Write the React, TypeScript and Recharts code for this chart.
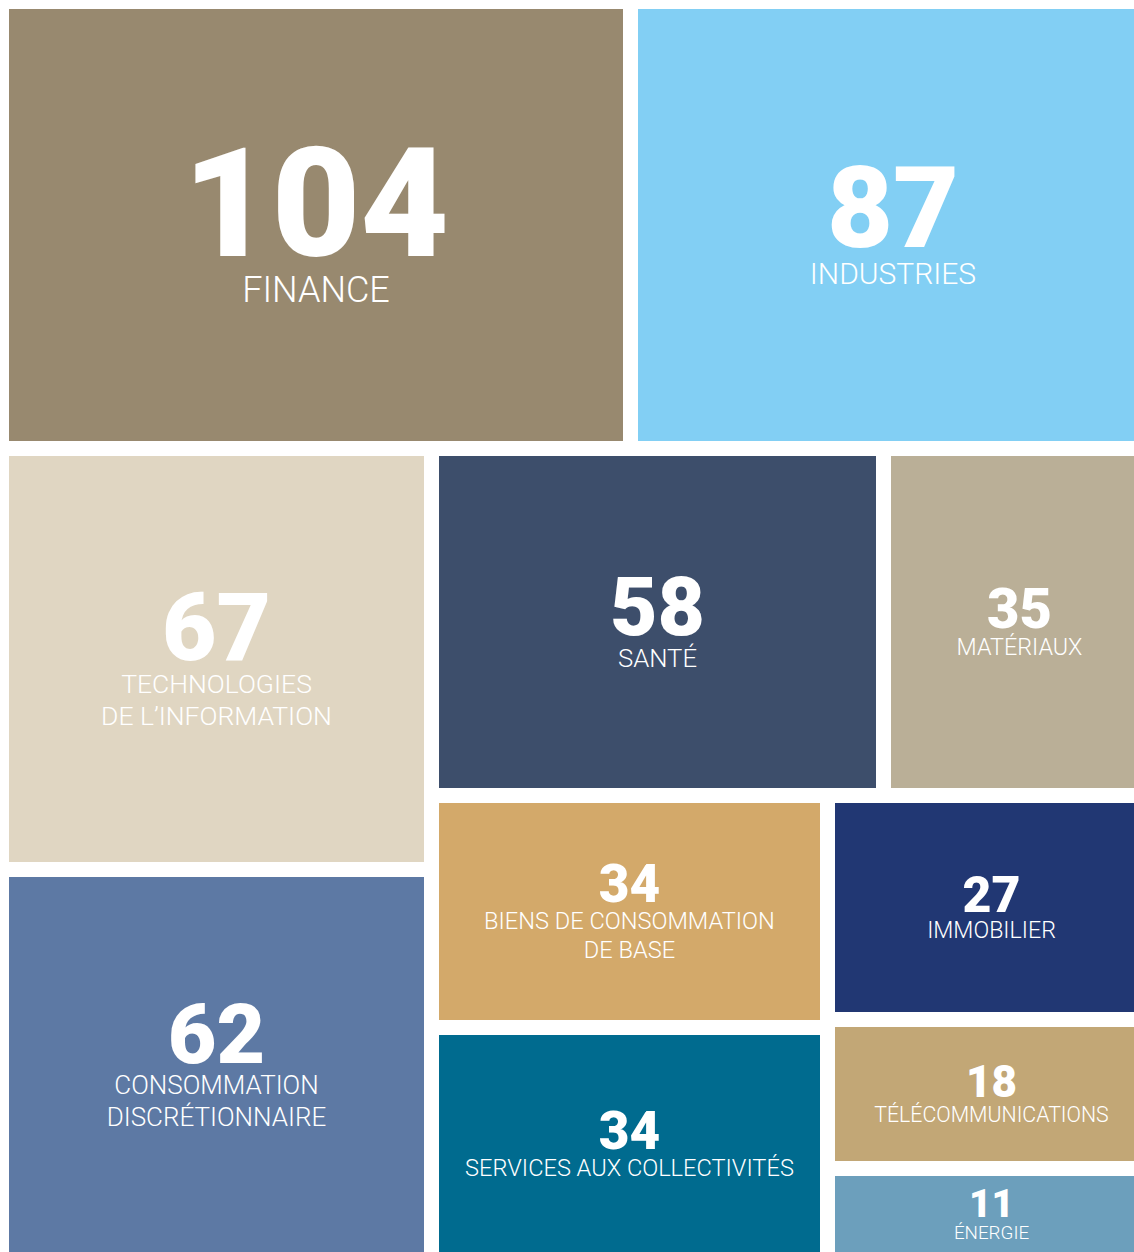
import React from 'react';
import { Treemap } from 'recharts';

// secteurs, dans l'ordre du plus grand au plus petit
const sectors = [
  'FINANCE',
  'INDUSTRIES',
  'TECHNOLOGIES\nDE L’INFORMATION',
  'CONSOMMATION\nDISCRÉTIONNAIRE',
  'SANTÉ',
  'MATÉRIAUX',
  'BIENS DE CONSOMMATION\nDE BASE',
  'SERVICES AUX COLLECTIVITÉS',
  'IMMOBILIER',
  'TÉLÉCOMMUNICATIONS',
  'ÉNERGIE',
];
const counts = [104, 87, 67, 62, 58, 35, 34, 34, 27, 18, 11];

// styles
const fills = [
  '#98896F', '#82CFF4', '#E0D6C2', '#5D79A4', '#3D4E6B', '#BAAF97',
  '#D3A96A', '#006B8F', '#213773', '#C2A776', '#6C9FBC',
];
const numberSizes = [153, 114, 94, 84, 82, 56, 53, 53, 50, 44, 39];
const labelSizes = [36, 30, 26.5, 26, 25.7, 23.3, 23.6, 23.6, 23.2, 21.3, 18.8];

const GAP = 15;

const leaf = (i: number) => ({ name: sectors[i], value: counts[i], idx: i });

// the last three are grouped so they stack in one column
const treeData = [
  ...[0, 1, 2, 3, 4, 5, 6, 7].map(leaf),
  {
    name: 'reste',
    children: [{ name: 'reste2', children: [leaf(8), leaf(9)] }, leaf(10)],
  },
];

const renderCell = (props: any) => {
  const { x, y, width, height, children, idx } = props;
  if ((children && children.length) || idx === undefined || idx === null) return <g />;

  const rx = x + 7;
  const ry = y + 7;
  const rw = width - GAP;
  const rh = height - GAP;
  const cx = rx + rw / 2;
  const cy = ry + rh / 2;

  const ns = numberSizes[idx];
  const ls = labelSizes[idx];
  const lines = String(sectors[idx]).split('\n');
  const capN = ns * 0.71;
  const capL = ls * 0.71;
  const gap = ns * 0.1 + 5;
  const lineH = ls * 1.22;
  const block = capN + gap + (lines.length - 1) * lineH + capL;
  const top = cy - block / 2;

  return (
    <g>
      <rect x={rx} y={ry} width={rw} height={rh} fill={fills[idx]} />
      <text
        x={cx}
        y={top + capN}
        textAnchor="middle"
        fill="#fff"
        style={{ fontFamily: 'Roboto, sans-serif', fontWeight: 900, fontSize: ns }}
      >
        {counts[idx]}
      </text>
      {lines.map((line, k) => (
        <text
          key={k}
          x={cx}
          y={top + capN + gap + capL + k * lineH}
          textAnchor="middle"
          fill="#fff"
          style={{ fontFamily: 'Roboto, sans-serif', fontWeight: 300, fontSize: ls }}
        >
          {line}
        </text>
      ))}
    </g>
  );
};

export default function App() {
  return (
    <div style={{ position: 'absolute', left: 0, top: 0, width: 1134, height: 1252, overflow: 'hidden', background: '#fff' }}>
      <div style={{ position: 'absolute', left: 2, top: 2 }}>
        <Treemap
          width={1154}
          height={1258}
          data={treeData}
          dataKey="value"
          aspectRatio={1}
          isAnimationActive={false}
          content={renderCell}
        />
      </div>
    </div>
  );
}
